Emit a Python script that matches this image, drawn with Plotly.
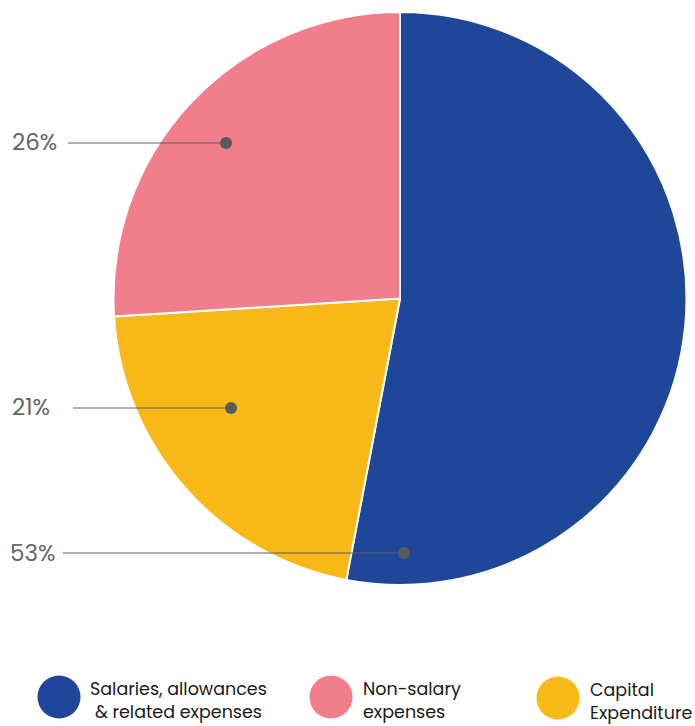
import plotly.graph_objects as go

# ---- data ----
categories = ["Salaries, allowances & related expenses", "Capital Expenditure", "Non-salary expenses"]
values = [53, 21, 26]
colors = ["#1E4799", "#F8B918", "#F17E8A"]
pct_labels = ["53%", "21%", "26%"]

legend_order = [0, 2, 1]
legend_text = ["Salaries, allowances<br>& related expenses", "Non-salary<br>expenses", "Capital<br>Expenditure"]

W, H = 695, 726
def px(x):
    return x / W
def py(y):
    return 1 - y / H

fig = go.Figure()
fig.add_trace(go.Pie(
    labels=categories, values=values, sort=False, direction="clockwise", rotation=0,
    marker=dict(colors=colors, line=dict(color="white", width=2)),
    textinfo="none", hoverinfo="label+percent", showlegend=False,
    domain=dict(x=[px(113), px(687)], y=[py(585), py(12)]),
))

shapes = []
annotations = []
# leader lines: (label text x, text y, line start x, dot x, dot y)
leaders = {
    2: (10, 142, 68, 226, 143),
    1: (10, 407, 73, 231, 408),
    0: (8, 553, 63, 404, 553),
}
for i, (tx, ty, lx, dx, dy) in leaders.items():
    shapes.append(dict(type="line", xref="paper", yref="paper",
                       x0=px(lx), y0=py(dy), x1=px(dx), y1=py(dy),
                       line=dict(color="#5f5f5f", width=1)))
    shapes.append(dict(type="circle", xref="paper", yref="paper",
                       x0=px(dx - 6), x1=px(dx + 6), y0=py(dy + 6), y1=py(dy - 6),
                       fillcolor="#5a5a5a", line=dict(width=0)))
    annotations.append(dict(xref="paper", yref="paper", x=px(tx), y=py(ty),
                            xanchor="left", yanchor="middle", showarrow=False,
                            text=pct_labels[i],
                            font=dict(family="Poppins, Inter, sans-serif", size=23, color="#666666")))

# custom legend
leg_pos = [(59, 697, 88, "center"), (331, 697, 361, "left"), (558, 698, 588, "left")]
for k, idx in enumerate(legend_order):
    cx, cy, tx, al = leg_pos[k]
    shapes.append(dict(type="circle", xref="paper", yref="paper",
                       x0=px(cx - 21.5), x1=px(cx + 21.5), y0=py(cy + 21.5), y1=py(cy - 21.5),
                       fillcolor=colors[idx], line=dict(width=0)))
    annotations.append(dict(xref="paper", yref="paper", x=px(tx), y=py(cy + 3),
                            xanchor="left", yanchor="middle", showarrow=False, align=al,
                            text=legend_text[k],
                            font=dict(family="Poppins, Inter, sans-serif", size=17.5, color="#1a1a1a")))

fig.update_layout(
    width=W, height=H, margin=dict(l=0, r=0, t=0, b=0),
    paper_bgcolor="white", plot_bgcolor="white",
    shapes=shapes, annotations=annotations, showlegend=False,
)
fig.write_html("out.html")
